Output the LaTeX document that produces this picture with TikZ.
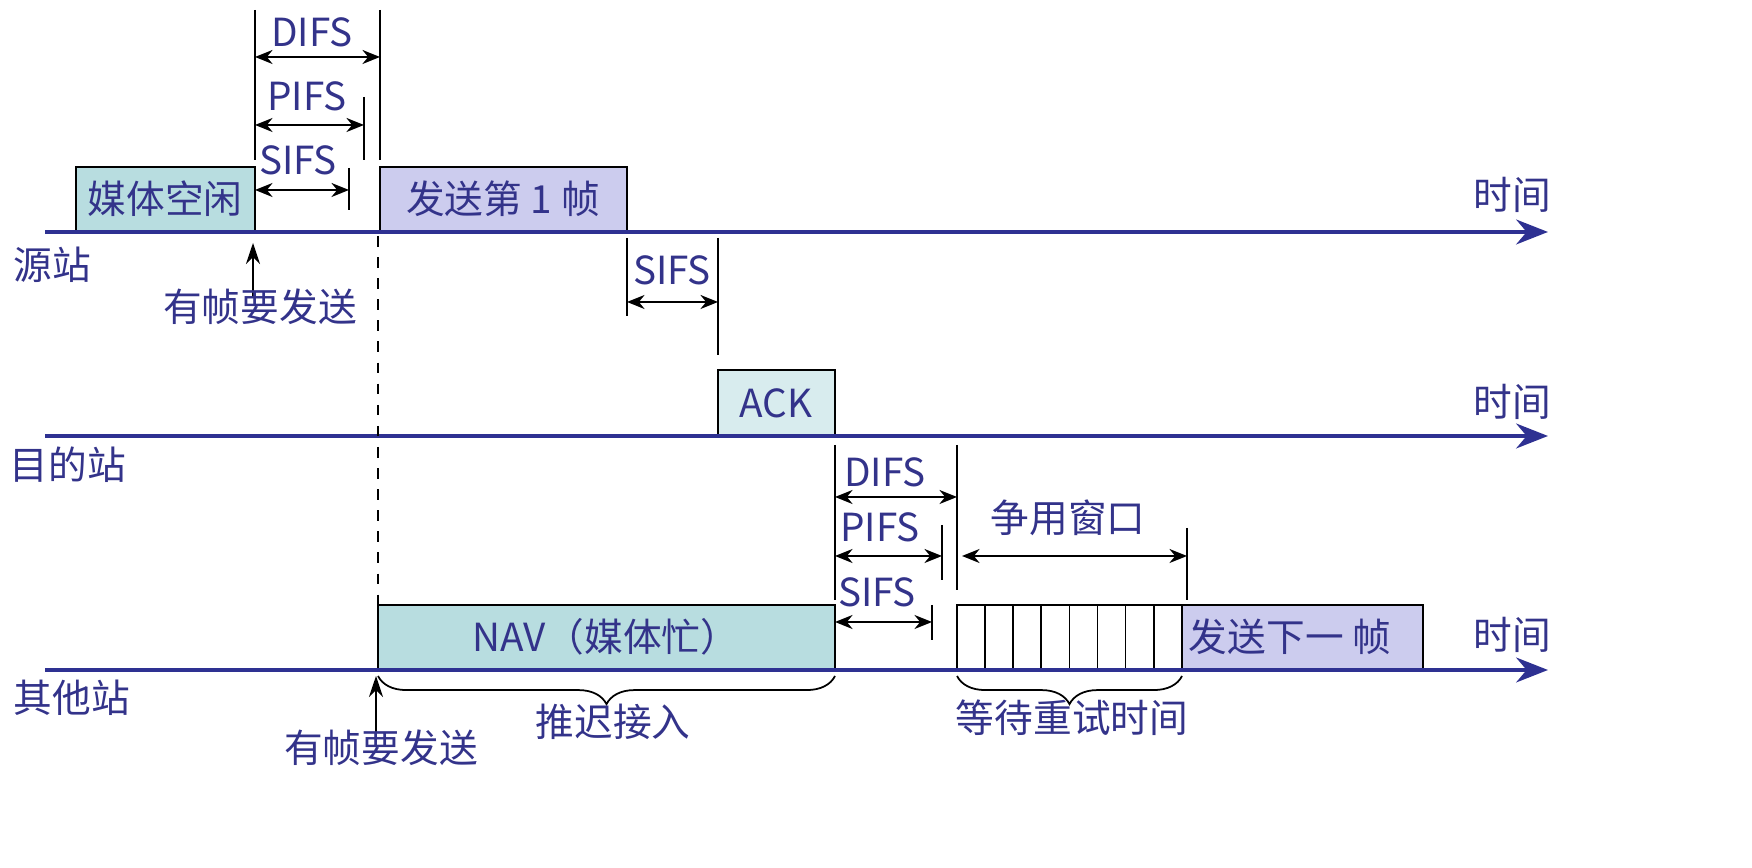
\documentclass[tikz,border=0pt]{standalone}
\usepackage{fontspec}
\setmainfont{Noto Sans CJK SC}[Scale=1]
\usetikzlibrary{arrows.meta,decorations.pathreplacing,positioning}
\definecolor{txtblue}{HTML}{33338A}
\definecolor{axisblue}{HTML}{2E3192}
\definecolor{idlefill}{HTML}{B8DDE0}
\definecolor{ackfill}{HTML}{D8ECEE}
\definecolor{sendfill}{HTML}{CCCCEE}
\begin{document}
\begin{tikzpicture}[x=0.01cm,y=-0.01cm,font=\fontsize{11}{13}\selectfont]
\tikzstyle{lbl}=[txtblue, inner sep=0pt];
\tikzstyle{timeaxis}=[axisblue, line width=1.4pt, -{Stealth[length=9pt,width=7pt]}];
\tikzstyle{frame}=[draw=black, line width=0.5pt];
\tikzstyle{dim}=[<->, >={Stealth[length=5pt,width=4pt]}, line width=0.5pt];
\tikzstyle{tick}=[line width=0.5pt];
\useasboundingbox (0,0) rectangle (1752,868);

% axes
\coordinate (a1s) at (45,232);  \coordinate (a1e) at (1548,232);
\coordinate (a2s) at (45,436);  \coordinate (a2e) at (1548,436);
\coordinate (a3s) at (45,670);  \coordinate (a3e) at (1548,670);

% frames
\draw[frame, fill=idlefill] (76,167) rectangle (255,232);
\node[lbl] (idle) at (165,199) {媒体空闲};
\draw[frame, fill=sendfill] (380,167) rectangle (627,232);
\node[lbl] (send1) at (503,199) {发送第 1 帧};
\draw[frame, fill=ackfill] (718,370) rectangle (835,436);
\node[lbl] (ack) at (776,403) {ACK};
\draw[frame, fill=idlefill] (378,605) rectangle (835,670);
\node[lbl] (nav) at (606,637) {NAV（媒体忙）};
\foreach \i in {0,...,7}
  \draw[frame] (957+\i*28.1,605) rectangle (957+\i*28.1+28.1,670);
\draw[frame, fill=sendfill] (1182,605) rectangle (1423,670);
\node[lbl] (sendnext) at (1290,637) {发送下一 帧};

\draw[timeaxis] (a1s) -- (a1e);
\draw[timeaxis] (a2s) -- (a2e);
\draw[timeaxis] (a3s) -- (a3e);

\node[lbl] (src) at (52,265) {源站};
\node[lbl] (dst) at (68,465) {目的站};
\node[lbl] (oth) at (72,698) {其他站};
\node[lbl] (t1) at (1512,195) {时间};
\node[lbl] (t2) at (1512,402) {时间};
\node[lbl] (t3) at (1512,635) {时间};

% source station spacings
\draw[tick] (255,10) -- (255,160);
\draw[tick] (380,10) -- (380,160);
\draw[tick] (364,97) -- (364,160);
\draw[tick] (349,168) -- (349,210);
\coordinate (d1a) at (255,57);  \coordinate (d1b) at (380,57);
\coordinate (p1a) at (255,125); \coordinate (p1b) at (364,125);
\coordinate (s1a) at (255,190); \coordinate (s1b) at (349,190);
\draw[dim] (d1a) -- (d1b);
\draw[dim] (p1a) -- (p1b);
\draw[dim] (s1a) -- (s1b);
\node[lbl] (difs1) at (312,32) {DIFS};
\node[lbl] (pifs1) at (307,96) {PIFS};
\node[lbl] (sifs1) at (298,160) {SIFS};
\coordinate (req1) at (253,297);
\coordinate (req1t) at (253,243);
\draw[-{Stealth[length=6pt,width=4pt]}, line width=0.5pt] (req1) -- (req1t);
\node[lbl] (has1) at (260,307) {有帧要发送};

% ack spacing
\draw[tick] (627,238) -- (627,316);
\draw[tick] (718,238) -- (718,355);
\coordinate (s2a) at (627,302); \coordinate (s2b) at (718,302);
\draw[dim] (s2a) -- (s2b);
\node[lbl] (sifs2) at (672,270) {SIFS};

% dashed line
\coordinate (dasha) at (378,236); \coordinate (dashb) at (378,605);
\draw[dashed, line width=0.5pt] (dasha) -- (dashb);

% other station spacings
\draw[tick] (835,445) -- (835,600);
\draw[tick] (957,445) -- (957,590);
\draw[tick] (942,525) -- (942,580);
\draw[tick] (932,605) -- (932,640);
\draw[tick] (1187,528) -- (1187,600);
\coordinate (d3a) at (835,497); \coordinate (d3b) at (957,497);
\coordinate (p3a) at (835,556); \coordinate (p3b) at (942,556);
\coordinate (s3a) at (835,622); \coordinate (s3b) at (932,622);
\coordinate (cwa) at (962,556); \coordinate (cwb) at (1187,556);
\draw[dim] (d3a) -- (d3b);
\draw[dim] (p3a) -- (p3b);
\draw[dim] (s3a) -- (s3b);
\draw[dim] (cwa) -- (cwb);
\node[lbl] (difs3) at (885,472) {DIFS};
\node[lbl] (pifs3) at (880,527) {PIFS};
\node[lbl] (sifs3) at (877,592) {SIFS};
\node[lbl] (cw) at (1068,518) {争用窗口};

% braces
\coordinate (b1a) at (378,676); \coordinate (b1b) at (835,676);
\coordinate (b2a) at (957,676); \coordinate (b2b) at (1182,676);
\draw[decorate, decoration={brace, mirror, amplitude=8pt}, line width=0.5pt] (b1a) -- (b1b);
\draw[decorate, decoration={brace, mirror, amplitude=8pt}, line width=0.5pt] (b2a) -- (b2b);
\node[lbl] (defer) at (613,722) {推迟接入};
\node[lbl] (wait) at (1072,718) {等待重试时间};
\coordinate (req3) at (376,742);
\coordinate (req3t) at (376,676);
\draw[-{Stealth[length=6pt,width=4pt]}, line width=0.5pt] (req3) -- (req3t);
\node[lbl] (has3) at (381,748) {有帧要发送};
\end{tikzpicture}
\end{document}
